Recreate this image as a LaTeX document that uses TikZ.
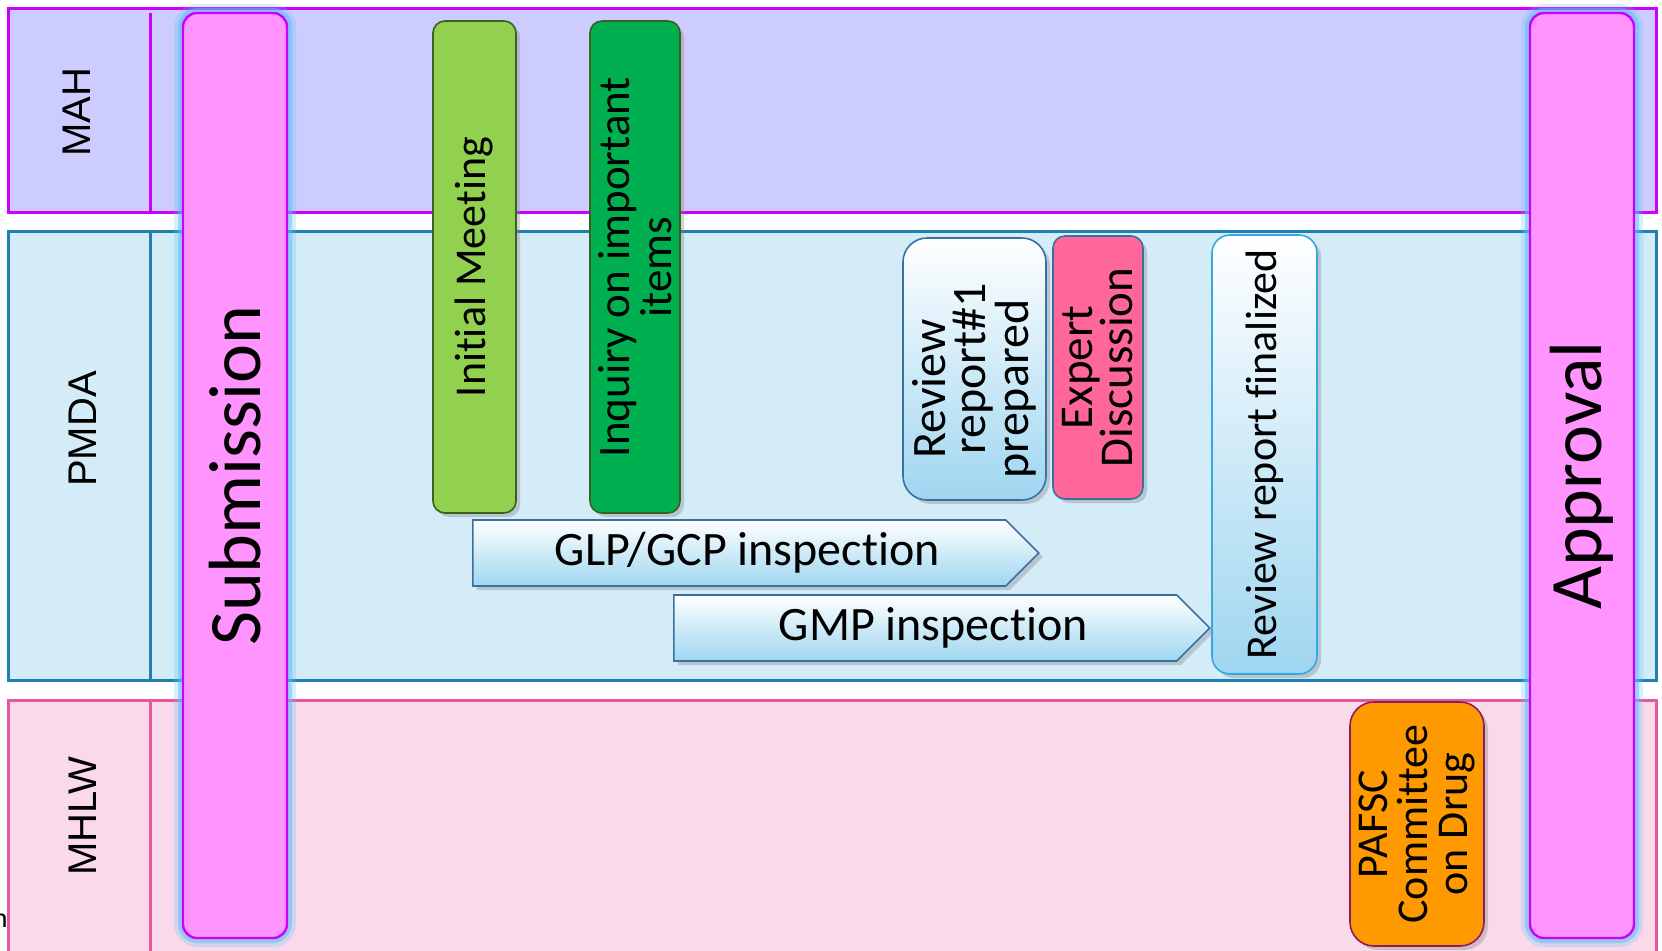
\documentclass[tikz,border=0pt]{standalone}
\usepackage{fontspec}
\setmainfont[Ligatures=NoCommon]{Carlito}
\newfontfamily\lanefont{Liberation Sans}
\usetikzlibrary{shapes.symbols,shadows}

\definecolor{mahfill}{HTML}{CCCCFF}
\definecolor{mahline}{HTML}{CC00FF}
\definecolor{pmdafill}{HTML}{D4EBF8}
\definecolor{pmdaline}{HTML}{1F80B0}
\definecolor{mhlwfill}{HTML}{FADAEA}
\definecolor{mhlwline}{HTML}{E8579C}
\definecolor{milefill}{HTML}{FF94FF}
\definecolor{glowblue}{HTML}{5BC0F8}
\definecolor{meetgreen}{HTML}{92D050}
\definecolor{inqgreen}{HTML}{00B050}
\definecolor{darkgreen}{HTML}{3B6020}
\definecolor{paleblue}{HTML}{9FD6F0}
\definecolor{steelblue}{HTML}{3A70A0}
\definecolor{expertpink}{HTML}{FF6699}
\definecolor{skyline}{HTML}{35A8DD}
\definecolor{pafscorange}{HTML}{FF9900}
\definecolor{pafscline}{HTML}{8B1E5A}

\begin{document}
\begin{tikzpicture}[x=0.5pt,y=-0.5pt,
    lane/.style={line width=1.5pt},
    lanelabel/.style={font=\lanefont\fontsize{20}{24}\selectfont,rotate=90},
    milestone/.style={rectangle,rounded corners=7pt,draw=mahline,line width=1.2pt,
      fill=milefill,rotate=90,minimum width=462.5pt,minimum height=52pt,
      font=\fontsize{37}{40}\selectfont,
      preaction={draw=glowblue,line width=9pt,opacity=.25},
      preaction={draw=glowblue,line width=5pt,opacity=.5}},
    task/.style={rectangle,rounded corners=6pt,rotate=90,align=center,inner sep=1pt,
      line width=0.8pt,font=\fontsize{22}{20}\selectfont,
      drop shadow={shadow xshift=2pt,shadow yshift=-2pt,opacity=.35}},
    report/.style={task,draw=steelblue,top color=white,bottom color=paleblue},
    inspect/.style={signal,signal to=east,signal pointer angle=90,draw=steelblue,
      line width=0.8pt,top color=white,bottom color=paleblue,minimum height=33pt,
      anchor=west,font=\fontsize{24}{26}\selectfont,
      drop shadow={shadow xshift=2pt,shadow yshift=-2pt,opacity=.35}}]
  \useasboundingbox (0,0) rectangle (1662,950);
  \clip (0,0) rectangle (1662,950);
  % swim lanes
  \draw[lane,draw=mahline,fill=mahfill] (8.5,8.5) rectangle (1656,212);
  \draw[lane,draw=mahline] (150,13) -- (150,212);
  \draw[lane,draw=pmdaline,fill=pmdafill] (8.5,231) rectangle (1656,680);
  \draw[lane,draw=pmdaline] (150,231) -- (150,680);
  \draw[lane,draw=mhlwline,fill=mhlwfill] (8.5,700) rectangle (1656,990);
  \draw[lane,draw=mhlwline] (150,700) -- (150,990);
  \node[lanelabel] (mah)  at (77,112)  {MAH};
  \node[lanelabel] (pmda) at (83,429)  {PMDA};
  \node[lanelabel] (mhlw) at (83,816)  {MHLW};
  \node[font=\fontsize{14}{16}\selectfont,anchor=base east,inner sep=0pt] (cut) at (8,927) {h};
  % inspections
  \node[inspect,minimum width=283pt] (glp) at (472,553) {\hspace*{8pt}GLP/GCP inspection};
  \node[inspect,minimum width=268pt] (gmp) at (673,628) {\hspace*{8pt}GMP inspection};
  % review steps
  \node[task,fill=meetgreen,draw=darkgreen,minimum width=246pt,minimum height=41.5pt] (meet) at (474.5,267) {Initial Meeting};
  \node[task,fill=inqgreen,draw=darkgreen,minimum width=246pt,minimum height=45pt,font=\fontsize{22.5}{21}\selectfont] (inquiry) at (635,267) {Inquiry on important\\items};
  \node[report,rounded corners=12pt,minimum width=131pt,minimum height=71.5pt,font=\fontsize{24}{20}\selectfont] (draft) at (974.5,369)
    {Review\hspace*{20pt}\\report\#1\hspace*{20pt}\\prepared\hspace*{20pt}};
  \node[task,fill=expertpink,draw=steelblue,minimum width=131.5pt,minimum height=45pt,font=\fontsize{23.5}{20}\selectfont] (expert) at (1098,367.5) {Expert\\Discussion};
  \node[report,draw=skyline,rounded corners=9pt,minimum width=219.5pt,minimum height=52.5pt] (final) at (1264.5,454.5) {Review report finalized};
  \node[task,fill=pafscorange,draw=pafscline,rounded corners=12pt,minimum width=122pt,minimum height=67pt] (pafsc) at (1417,824) {PAFSC\\Committee\\on Drug};
  % milestones
  \node[milestone] (submit)  at (235,475.5)  {Submission};
  \node[milestone] (approve) at (1582,475.5) {Approval};
\end{tikzpicture}
\end{document}
